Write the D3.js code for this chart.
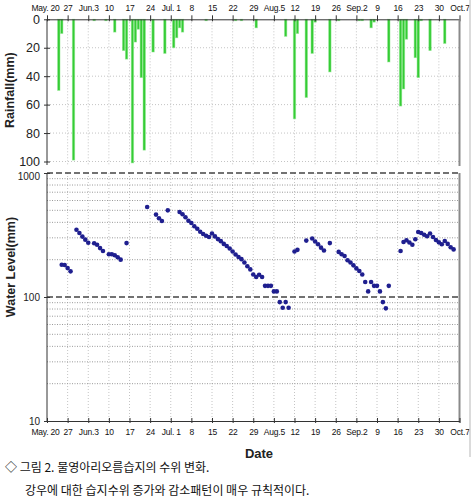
<!DOCTYPE html>
<html>
<head>
<meta charset="utf-8">
<script src="https://cdn.jsdelivr.net/npm/d3@7"></script>
<style>
  html, body { margin: 0; padding: 0; background: #fff; }
  svg { display: block; font-family: "Liberation Sans", Arial, sans-serif; }
</style>
</head>
<body>
<div id="chart"></div>
<script>
// rainfall (mm) per day
const rainDates = ["05-24","05-25","05-29","06-05","06-09","06-12","06-15","06-16","06-18","06-19",
  "06-20","06-21","06-22","06-25","06-29","07-02","07-03","07-04","07-05","07-13",
  "07-23","07-25","07-30","08-09","08-12","08-13","08-16","08-18","08-19","08-24",
  "08-27","09-03","09-04","09-07","09-08","09-13","09-17","09-18","09-19","09-22",
  "09-23","09-24","09-27","10-02"];
const rainValues = [50, 10, 99, 1, 1, 9, 22, 28, 101, 16,
  7, 41, 92, 23, 24, 20, 13, 6, 9, 1,
  1, 1, 6, 12, 70, 10, 55, 24, 2, 37,
  1, 1, 1, 6, 2, 30, 61, 49, 14, 27,
  41, 1, 22, 17];

// wetland water level (mm)
const levelDates = ["05-25","05-26","05-27","05-28","05-30","05-31","06-01","06-02","06-03","06-05",
  "06-06","06-07","06-08","06-10","06-11","06-12","06-13","06-14","06-16","06-23",
  "06-26","06-27","06-28","06-30","07-04","07-05","07-06","07-07","07-08","07-09",
  "07-10","07-11","07-12","07-13","07-14","07-15","07-16","07-17","07-18","07-19",
  "07-20","07-21","07-22","07-23","07-24","07-25","07-26","07-27","07-28","07-29",
  "07-30","07-31","08-01","08-02","08-03","08-04","08-05","08-06","08-07","08-08",
  "08-09","08-10","08-12","08-13","08-16","08-18","08-19","08-20","08-21","08-22",
  "08-24","08-27","08-28","08-29","08-30","08-31","09-01","09-02","09-03","09-04",
  "09-05","09-06","09-07","09-08","09-09","09-10","09-11","09-12","09-13","09-17",
  "09-18","09-19","09-20","09-21","09-22","09-23","09-24","09-25","09-26","09-27",
  "09-28","09-29","09-30","10-01","10-02","10-03","10-04","10-05"];
const levelValues = [182, 181, 171, 161, 349, 328, 307, 290, 274, 271,
  264, 248, 235, 221, 221, 217, 209, 200, 272, 532,
  462, 432, 410, 500, 485, 465, 440, 412, 395, 372,
  355, 336, 322, 312, 305, 325, 308, 293, 282, 268,
  258, 246, 233, 220, 210, 202, 190, 177, 167, 152,
  145, 151, 145, 123, 123, 123, 111, 111, 91, 82,
  91, 82, 233, 240, 285, 296, 280, 266, 250, 237,
  272, 231, 221, 214, 198, 190, 180, 170, 162, 152,
  132, 111, 132, 123, 123, 111, 91, 81, 123, 235,
  278, 287, 275, 264, 292, 334, 328, 318, 309, 325,
  305, 288, 276, 266, 283, 268, 252, 242];

const weekDates = ["05-20","05-27","06-03","06-10","06-17","06-24","07-01","07-08","07-15","07-22",
  "07-29","08-05","08-12","08-19","08-26","09-02","09-09","09-16","09-23","09-30","10-07"];
const weekLabels = ["May. 20","27","Jun.3","10","17","24","Jul. 1","8","15","22",
  "29","Aug.5","12","19","26","Sep.2","9","16","23","30","Oct.7"];
const rainTicks = [0, 20, 40, 60, 80, 100];
const levelTicks = [10, 100, 1000];

const parse = d3.timeParse("%m-%d");
const weeks = weekDates.map(parse);

const width = 472, height = 498;
const left = 47, right = 459.5;

const svg = d3.select("#chart").append("svg")
  .attr("width", width)
  .attr("height", height);

const x = d3.scaleTime()
  .domain([weeks[0], weeks[weeks.length - 1]])
  .range([left, right]);

const yRain = d3.scaleLinear().domain([0, 100]).range([19.3, 161.5]);
const yLevel = d3.scaleLog().domain([10, 1000]).range([421, 173]);

// ---- rainfall panel ----
const rainGrid = svg.append("g").attr("stroke", "#c4c4c4").attr("stroke-dasharray", "1,2");
rainGrid.selectAll("line.v").data(weeks.slice(1, -1)).enter().append("line")
  .attr("x1", d => x(d)).attr("x2", d => x(d))
  .attr("y1", yRain(0)).attr("y2", 166);
rainGrid.selectAll("line.h").data(rainTicks.slice(1)).enter().append("line")
  .attr("x1", left).attr("x2", right)
  .attr("y1", d => yRain(d)).attr("y2", d => yRain(d));

svg.append("g")
  .selectAll("rect")
  .data(rainDates.map((d, i) => ({ date: parse(d), value: rainValues[i] })))
  .enter().append("rect")
  .attr("x", d => x(d.date) - 1.2)
  .attr("y", yRain(0))
  .attr("width", 2.4)
  .attr("height", d => yRain(d.value) - yRain(0))
  .attr("fill", "#35cc35")
  .attr("stroke", "#8ee88e")
  .attr("stroke-width", 0.8)
  .attr("stroke-opacity", 0.6);

// top date axis
const topAxis = svg.append("g")
  .attr("transform", `translate(0,${yRain(0)})`)
  .call(d3.axisTop(x).tickValues(weeks).tickFormat((d, i) => weekLabels[i]).tickSize(4).tickSizeOuter(0));
topAxis.selectAll(".tick line").attr("y1", 2).attr("stroke", "#333");
topAxis.selectAll(".tick text").attr("font-size", 8.5).attr("font-family", "Liberation Sans, Arial")
  .attr("dy", "-0.1em").attr("fill", "#111").attr("letter-spacing", -0.2)
  .attr("dx", (d, i) => i === 0 ? -2 : 0);
topAxis.select(".domain").attr("stroke", "#333");

// left rain axis
const rainAxis = svg.append("g")
  .attr("transform", `translate(${left},0)`)
  .call(d3.axisLeft(yRain).tickValues(rainTicks).tickSize(3).tickSizeOuter(0));
rainAxis.select(".domain").remove();
rainAxis.selectAll(".tick line").attr("x1", 3).attr("stroke", "#333");
rainAxis.selectAll(".tick text").attr("font-size", 12.5).attr("font-family", "Liberation Sans, Arial").attr("x", -7).attr("fill", "#222");
svg.append("line").attr("x1", left).attr("x2", left).attr("y1", yRain(0)).attr("y2", 165).attr("stroke", "#333");
svg.append("line").attr("x1", right).attr("x2", right).attr("y1", yRain(0)).attr("y2", 166)
  .attr("stroke", "#8a8a8a").attr("stroke-width", 2);

svg.append("text")
  .attr("transform", `translate(14,${(yRain(0) + 161) / 2}) rotate(-90)`)
  .attr("text-anchor", "middle")
  .attr("font-size", 12.5).attr("font-weight", "bold").attr("fill", "#222")
  .text("Rainfall(mm)");

// ---- water level panel ----
const minor = [];
[10, 100].forEach(b => { for (let k = 2; k <= 9; k++) minor.push(b * k); });

const levelGrid = svg.append("g");
levelGrid.selectAll("line.v").data(weeks.slice(1, -1)).enter().append("line")
  .attr("x1", d => x(d)).attr("x2", d => x(d))
  .attr("y1", yLevel(1000)).attr("y2", yLevel(10))
  .attr("stroke", "#c4c4c4").attr("stroke-dasharray", "1,2");
levelGrid.selectAll("line.m").data(minor).enter().append("line")
  .attr("x1", left).attr("x2", right)
  .attr("y1", d => yLevel(d)).attr("y2", d => yLevel(d))
  .attr("stroke", "#9a9a9a").attr("stroke-dasharray", "1,1.5");
levelGrid.selectAll("line.M").data([100, 1000]).enter().append("line")
  .attr("x1", left).attr("x2", right)
  .attr("y1", d => yLevel(d)).attr("y2", d => yLevel(d))
  .attr("stroke", "#444").attr("stroke-width", 1.3).attr("stroke-dasharray", "6,3");

svg.append("g")
  .selectAll("circle")
  .data(levelDates.map((d, i) => ({ date: parse(d), value: levelValues[i] })))
  .enter().append("circle")
  .attr("cx", d => x(d.date))
  .attr("cy", d => yLevel(d.value))
  .attr("r", 2.3)
  .attr("fill", "#1f1f8f");

const levelAxis = svg.append("g")
  .attr("transform", `translate(${left},0)`)
  .call(d3.axisLeft(yLevel).tickValues(levelTicks).tickFormat(d3.format("d")).tickSize(3).tickSizeOuter(0));
levelAxis.select(".domain").remove();
levelAxis.selectAll(".tick line").attr("x1", 3).attr("stroke", "#333");
levelAxis.selectAll(".tick text").attr("font-size", 10).attr("font-family", "Liberation Sans, Arial")
  .attr("x", -7).attr("fill", "#222")
  .attr("dy", d => d === 1000 ? "0.65em" : "0.32em");
svg.append("line").attr("x1", left).attr("x2", left).attr("y1", yLevel(1000)).attr("y2", yLevel(10)).attr("stroke", "#333");
svg.append("line").attr("x1", right).attr("x2", right).attr("y1", yLevel(1000)).attr("y2", yLevel(10) + 1.5)
  .attr("stroke", "#8a8a8a").attr("stroke-width", 2);

const bottomAxis = svg.append("g")
  .attr("transform", `translate(0,${yLevel(10)})`)
  .call(d3.axisBottom(x).tickValues(weeks).tickFormat((d, i) => weekLabels[i]).tickSize(2).tickSizeOuter(0));
bottomAxis.selectAll(".tick line").attr("y1", -3).attr("stroke", "#333");
bottomAxis.selectAll(".tick text").attr("font-size", 8.5).attr("font-family", "Liberation Sans, Arial")
  .attr("dy", "1.1em").attr("fill", "#111").attr("letter-spacing", -0.2)
  .attr("dx", (d, i) => i === 0 ? -2 : 0);
bottomAxis.select(".domain").attr("stroke", "#333");

svg.append("text")
  .attr("transform", `translate(15,267) rotate(-90)`)
  .attr("text-anchor", "middle")
  .attr("font-size", 12.5).attr("font-weight", "bold").attr("fill", "#222")
  .text("Water Level(mm)");

svg.append("text")
  .attr("x", 259).attr("y", 458)
  .attr("text-anchor", "middle")
  .attr("font-size", 13).attr("font-weight", "bold").attr("fill", "#222")
  .text("Date");

// faint outer frame edge on the right
svg.append("line").attr("x1", 470).attr("x2", 470).attr("y1", 0).attr("y2", 457)
  .attr("stroke", "#cfcfcf").attr("stroke-width", 1.5);

// caption
const caption = svg.append("g")
  .attr("font-family", "Noto Sans CJK KR, sans-serif")
  .attr("font-size", 12).attr("fill", "#111");
caption.append("text").attr("x", 5).attr("y", 472).text("◇ 그림 2. 물영아리오름습지의 수위 변화.");
caption.append("text").attr("x", 25).attr("y", 495).text("강우에 대한 습지수위 증가와 감소패턴이 매우 규칙적이다.");
</script>
</body>
</html>
